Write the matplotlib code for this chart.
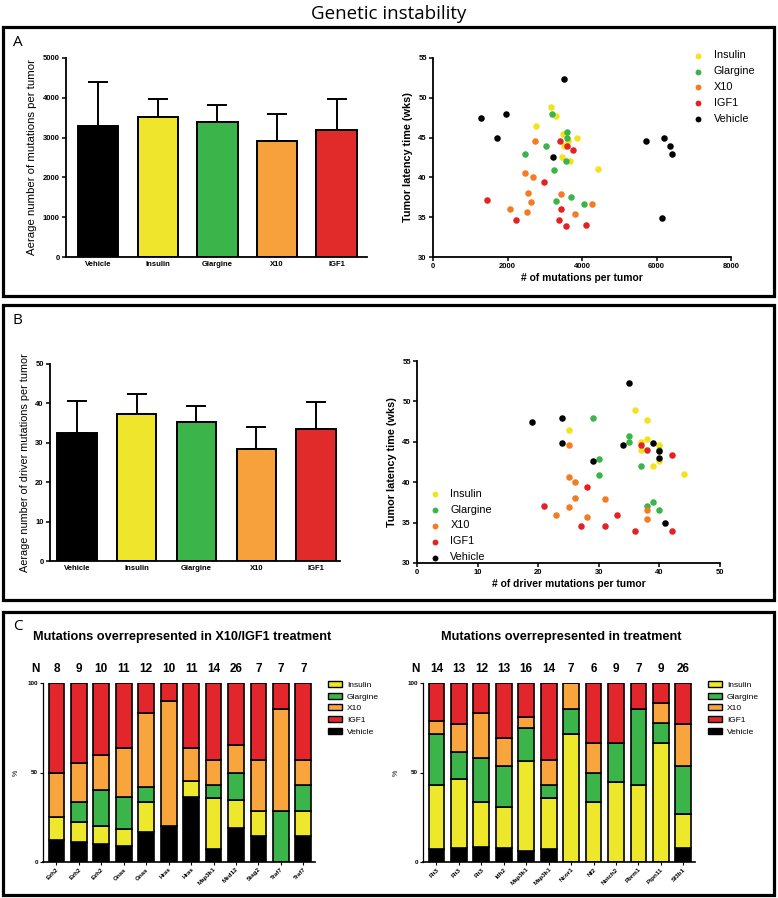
import matplotlib
matplotlib.use('Agg')
import matplotlib.pyplot as plt
from matplotlib.patches import Rectangle, Patch
import numpy as np

plt.rcParams['font.family'] = ['Liberation Sans', 'DejaVu Sans']

W, H = 778, 898

# ---- data ----
categories = ['Vehicle', 'Insulin', 'Glargine', 'X10', 'IGF1']
bar_colors = ['#000000', '#EFE52C', '#3BB54A', '#F7A13C', '#E12A2A']
dot_colors = {'Insulin': '#F2E31B', 'Glargine': '#3BB54A', 'X10': '#F47C20',
              'IGF1': '#E52222', 'Vehicle': '#000000'}

# panel A / B bars: mean and upper SD
mut_mean = [3290, 3530, 3390, 2920, 3200]
mut_err = [1110, 430, 420, 680, 780]
drv_mean = [32.6, 37.3, 35.2, 28.5, 33.5]
drv_err = [7.9, 5.0, 4.2, 5.5, 6.8]

# scatter: latency (wks), mutations, driver mutations per tumor
ins_lat = [48.9, 47.7, 46.4, 45.4, 45.0, 44.6, 44.0, 42.6, 42.0, 41.0]
ins_mut = [3160, 3290, 2760, 3500, 3860, 3620, 3510, 3450, 3680, 4430]
ins_drv = [36, 38, 25, 38, 37, 40, 37, 40, 39, 44]

gla_lat = [48.0, 45.7, 45.0, 44.0, 42.9, 42.0, 40.9, 37.6, 37.0, 36.6]
gla_mut = [3200, 3610, 3610, 3040, 2460, 3580, 3250, 3700, 3310, 4050]
gla_drv = [29, 35, 35, 40, 30, 37, 30, 39, 38, 40]

x10_lat = [44.6, 40.6, 40.0, 38.0, 37.9, 36.9, 36.6, 36.0, 35.7, 35.4]
x10_mut = [2750, 2460, 2690, 2550, 3430, 2640, 4260, 2070, 2520, 3810]
x10_drv = [25, 25, 26, 26, 31, 25, 38, 23, 28, 38]

igf_lat = [44.6, 44.0, 43.4, 39.4, 37.1, 36.0, 34.6, 34.6, 34.0, 33.9]
igf_mut = [3410, 3600, 3760, 2980, 1460, 3430, 2220, 3370, 4120, 3570]
igf_drv = [37, 38, 42, 28, 21, 33, 27, 31, 42, 36]

veh_lat = [52.3, 48.0, 47.4, 44.9, 44.9, 44.6, 43.9, 43.0, 42.6, 34.9]
veh_mut = [3520, 1970, 1300, 1720, 6210, 5730, 6360, 6420, 3230, 6160]
veh_drv = [35, 24, 19, 24, 39, 34, 40, 40, 29, 41]

# panel C: counts per treatment for each mutated gene
genes_left = ['Ezh2', 'Ezh2', 'Ezh2', 'Gnas', 'Gnas', 'Hras', 'Hras', 'Map3k1',
              'Med12', 'Stag2', 'Traf7', 'Traf7']
n_left = [8, 9, 10, 11, 12, 10, 11, 14, 26, 7, 7, 7]
veh_left = [1, 1, 1, 1, 2, 2, 4, 1, 5, 1, 0, 1]
ins_left = [1, 1, 1, 1, 2, 0, 1, 4, 4, 1, 0, 1]
gla_left = [0, 1, 2, 2, 1, 0, 0, 1, 4, 0, 2, 1]
x10_left = [2, 2, 2, 3, 5, 7, 2, 2, 4, 2, 4, 1]
igf_left = [4, 4, 4, 4, 2, 1, 4, 6, 9, 3, 1, 3]

genes_right = ['Flt3', 'Flt3', 'Flt3', 'Idh2', 'Map3k1', 'Map3k1', 'Ncor1', 'Nf2',
               'Notch2', 'Pbrm1', 'Ptpn11', 'Sf3b1']
n_right = [14, 13, 12, 13, 16, 14, 7, 6, 9, 7, 9, 26]
veh_right = [1, 1, 1, 1, 1, 1, 0, 0, 0, 0, 0, 2]
ins_right = [5, 5, 3, 3, 8, 4, 5, 2, 4, 3, 6, 5]
gla_right = [4, 2, 3, 3, 3, 1, 1, 1, 2, 3, 1, 7]
x10_right = [1, 2, 3, 2, 1, 2, 1, 1, 0, 0, 1, 6]
igf_right = [3, 3, 2, 4, 3, 6, 0, 2, 3, 1, 1, 6]

stack_colors = {'Vehicle': '#000000', 'Insulin': '#EEE82C', 'Glargine': '#3BB54A',
                'X10': '#F8A53E', 'IGF1': '#E3262B'}
legend_order = ['Insulin', 'Glargine', 'X10', 'IGF1', 'Vehicle']


def px_axes(fig, x0, y0, x1, y1):
    return fig.add_axes([x0 / W, 1 - y1 / H, (x1 - x0) / W, (y1 - y0) / H])


def prism(ax, size=5.5):
    for s in ['top', 'right']:
        ax.spines[s].set_visible(False)
    for s in ['left', 'bottom']:
        ax.spines[s].set_linewidth(1.3)
    ax.tick_params(direction='out', width=1.1, length=3, labelsize=size, pad=1.5)


def bold_ticks(ax):
    for lab in ax.get_xticklabels() + ax.get_yticklabels():
        lab.set_fontweight('bold')


def bar_panel(ax, means, errs, ymax, ystep, ylabel, xlim, width, ylsize):
    x = np.arange(len(categories))
    ax.errorbar(x, means, yerr=[np.zeros(len(errs)), errs], fmt='none', ecolor='black',
                elinewidth=1.4, capsize=7, capthick=1.4, zorder=1)
    ax.bar(x, means, width=width, color=bar_colors, edgecolor='black', linewidth=1.4, zorder=2)
    ax.set_xlim(*xlim)
    ax.set_ylim(0, ymax)
    ax.set_yticks(np.arange(0, ymax + ystep, ystep))
    ax.set_xticks(x)
    ax.set_xticklabels(categories, fontsize=6.5)
    prism(ax)
    ax.tick_params(axis='x', length=0, pad=3)
    ax.set_ylabel(ylabel, fontsize=ylsize, labelpad=4)
    bold_ticks(ax)


def scatter_panel(ax, xs, xlim, xstep, xlabel):
    groups = [('Insulin', ins_lat), ('Glargine', gla_lat), ('X10', x10_lat),
              ('IGF1', igf_lat), ('Vehicle', veh_lat)]
    for (name, lat), xv in zip(groups, xs):
        ax.scatter(xv, lat, s=22, color=dot_colors[name], label=name, zorder=3,
                   clip_on=False, linewidths=0)
    ax.set_xlim(*xlim)
    ax.set_ylim(30, 55)
    ax.set_xticks(np.arange(xlim[0], xlim[1] + xstep, xstep))
    ax.set_yticks(np.arange(30, 56, 5))
    prism(ax)
    ax.set_xlabel(xlabel, fontsize=7.4, fontweight='bold', labelpad=2)
    ax.set_ylabel('Tumor latency time (wks)', fontsize=7.8, fontweight='bold', labelpad=4)
    bold_ticks(ax)


def stacked_panel(ax, genes, n, counts, title):
    x = np.arange(len(genes))
    bottom = np.zeros(len(genes))
    for name, c in zip(['Vehicle', 'Insulin', 'Glargine', 'X10', 'IGF1'], counts):
        pct = 100 * np.array(c) / np.array(n)
        ax.bar(x, pct, bottom=bottom, width=0.7, color=stack_colors[name],
               edgecolor='black', linewidth=1.2)
        bottom += pct
    ax.set_xlim(-0.6, len(genes) - 0.48)
    ax.set_ylim(0, 100)
    ax.set_yticks([0, 50, 100])
    prism(ax, size=4.5)
    ax.spines['left'].set_linewidth(0.9)
    ax.spines['bottom'].set_linewidth(1.2)
    ax.tick_params(axis='y', length=2, width=0.8)
    ax.tick_params(axis='x', length=2, width=0.8)
    ax.set_xticks(x)
    ax.set_xticklabels(genes, rotation=45, ha='right', rotation_mode='anchor', fontsize=4.5)
    ax.set_ylabel('%', fontsize=5, labelpad=6)
    bold_ticks(ax)
    tr = ax.get_xaxis_transform()
    ax.text(-0.94, 1.078, 'N', transform=tr, ha='center', va='center',
            fontsize=8.5, fontweight='bold')
    for i, v in enumerate(n):
        ax.text(i, 1.078, str(v), transform=tr, ha='center', va='center',
                fontsize=8.5, fontweight='bold')
    ax.text(0.51, 1.257, title, transform=ax.transAxes, ha='center', va='center',
            fontsize=9.2, fontweight='bold')
    handles = [Patch(facecolor=stack_colors[k], edgecolor='black', linewidth=1.0, label=k)
               for k in legend_order]
    ax.legend(handles=handles, loc='upper left', bbox_to_anchor=(1.035, 1.03), frameon=False,
              fontsize=6, handlelength=1.7, handleheight=0.75, labelspacing=0.45,
              handletextpad=0.6, borderaxespad=0)


fig = plt.figure(figsize=(W / 100, H / 100), dpi=100)

# panel frames
for (y0, y1) in [(27, 296), (305, 600), (612, 895)]:
    fig.add_artist(Rectangle((3 / W, 1 - y1 / H), 771 / W, (y1 - y0) / H,
                             transform=fig.transFigure, fill=False, lw=2.3, ec='black'))

fig.text(389 / W, 1 - 14 / H, 'Genetic instability', ha='center', va='center',
         fontsize=13.5, family='Open Sans')
for letter, (lx, ly) in zip('ABC', [(18, 43), (17, 321), (18, 627)]):
    fig.text(lx / W, 1 - ly / H, letter, ha='center', va='center', fontsize=11,
             family='Open Sans')

# A
ax = px_axes(fig, 66, 58, 367, 257)
bar_panel(ax, mut_mean, mut_err, 5000, 1000, 'Aerage number of mutations per tumor',
          (-0.54, 4.51), 0.68, 8.2)

ax = px_axes(fig, 433, 58, 731, 257)
scatter_panel(ax, [ins_mut, gla_mut, x10_mut, igf_mut, veh_mut], (0, 8000), 2000,
              '# of mutations per tumor')
ax.legend(loc='upper left', bbox_to_anchor=(0.84, 1.06), frameon=False, fontsize=7.8,
          handletextpad=0.4, labelspacing=0.55, borderaxespad=0, markerscale=0.9)

# B
ax = px_axes(fig, 50, 364, 340, 561)
bar_panel(ax, drv_mean, drv_err, 50, 10, 'Aerage number of driver mutations per tumor',
          (-0.45, 4.4), 0.66, 7.8)

ax = px_axes(fig, 417, 361, 720, 563)
scatter_panel(ax, [ins_drv, gla_drv, x10_drv, igf_drv, veh_drv], (0, 50), 10,
              '# of driver mutations per tumor')
ax.legend(loc='upper left', bbox_to_anchor=(0.01, 0.39), frameon=False, fontsize=7.8,
          handletextpad=0.4, labelspacing=0.55, borderaxespad=0, markerscale=0.9)

# C
ax = px_axes(fig, 43, 683, 315, 862)
stacked_panel(ax, genes_left, n_left,
              [veh_left, ins_left, gla_left, x10_left, igf_left],
              'Mutations overrepresented in X10/IGF1 treatment')

ax = px_axes(fig, 423, 683, 695, 862)
stacked_panel(ax, genes_right, n_right,
              [veh_right, ins_right, gla_right, x10_right, igf_right],
              'Mutations overrepresented in treatment')

fig.savefig('out.png', dpi=100)
